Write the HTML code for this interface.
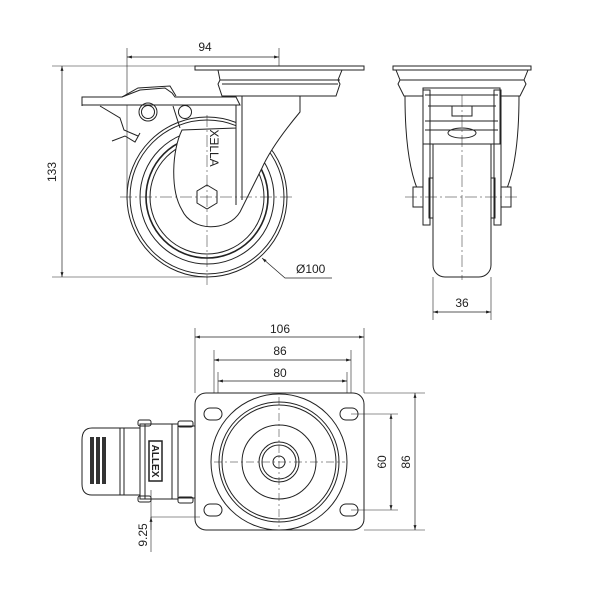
<!DOCTYPE html>
<html><head><style>html,body{margin:0;padding:0;background:#fff}svg{display:block}</style></head>
<body>
<svg width="600" height="600" viewBox="0 0 600 600" xmlns="http://www.w3.org/2000/svg" font-family="Liberation Sans, sans-serif" font-size="12" fill="none" stroke="#222" stroke-width="1">
<defs>
<marker id="a" viewBox="0 0 10 10" refX="10" refY="5" markerWidth="7" markerHeight="7" orient="auto-start-reverse"><path d="M0,2 L10,5 L0,8 z" fill="#222" stroke="none"/></marker>
</defs>

<!-- ========== SIDE VIEW ========== -->
<!-- dims -->
<line x1="127" y1="48" x2="127" y2="200" stroke-width="0.6"/>
<line x1="279" y1="48" x2="279" y2="75" stroke-width="0.6"/>
<line x1="127" y1="57" x2="279" y2="57" stroke-width="0.7" marker-start="url(#a)" marker-end="url(#a)"/>
<text x="205" y="51" fill="#222" stroke="none" text-anchor="middle">94</text>
<line x1="52" y1="66" x2="195" y2="66" stroke-width="0.6"/>
<line x1="52" y1="277" x2="205" y2="277" stroke-width="0.6"/>
<line x1="62" y1="66" x2="62" y2="277" stroke-width="0.7" marker-start="url(#a)" marker-end="url(#a)"/>
<text transform="translate(56,172) rotate(-90)" fill="#222" stroke="none" text-anchor="middle">133</text>

<!-- wheel -->
<g stroke-width="1">
<circle cx="207" cy="197" r="80"/>
<circle cx="207" cy="197" r="77"/>
<circle cx="207" cy="197" r="67"/>
<circle cx="207" cy="197" r="61" stroke-width="1.6"/>
<circle cx="207" cy="197" r="57"/>
</g>
<!-- fork side (white fill covering) -->
<path d="M182,130 C172,150 170,190 182,210 C192,232 228,232 240,212 L262,168 C270,150 285,130 300,112 L300,92 L236,92 L236,128 Z" fill="#fff" stroke="#222"/>
<path d="M236,100 L236,205" />
<path d="M242,96 L242,200"/>
<!-- plate -->
<rect x="195" y="66" width="169" height="4" fill="#fff"/>
<path d="M218,70 L342,70 L338,80 L340,84 L336,96 L300,96 L222,96 L218,84 L220,80 Z" fill="#fff"/>
<line x1="220" y1="80" x2="340" y2="80"/>
<line x1="222" y1="84" x2="338" y2="84"/>
<!-- bracket bar -->
<path d="M82,97 L122,97 L140,90 L165,88 L172,93 L175,97 L236,97 L240,105 L82,105 Z" fill="#fff"/>
<line x1="82" y1="97" x2="82" y2="106"/>
<path d="M122,97 L138,88 L170,86 L176,96"/>
<path d="M100,106 L120,118 L124,130 L138,136"/>
<path d="M112,141 L125,136 L135,142 L140,133"/>
<circle cx="148" cy="112" r="6.5"/>
<circle cx="148" cy="112" r="9"/>
<circle cx="185" cy="112" r="6.5"/>
<line x1="173" y1="106" x2="180" y2="128"/>
<!-- hub -->
<polygon points="207,185 217,191 217,203 207,209 197,203 197,191" fill="#fff"/>
<text transform="translate(210,148) rotate(90)" fill="#222" stroke="none" font-size="12" text-anchor="middle">XƎLLA</text>
<!-- centre lines -->
<line x1="120" y1="197" x2="295" y2="197" stroke-width="0.5" stroke-dasharray="12,3,2,3"/>
<line x1="207" y1="115" x2="207" y2="285" stroke-width="0.5" stroke-dasharray="12,3,2,3"/>
<!-- Ø100 leader -->
<path d="M262,258 L285,278 L332,278" stroke-width="0.7" marker-start="url(#a)"/>
<text x="296" y="273" fill="#222" stroke="none">Ø100</text>

<!-- ========== FRONT VIEW ========== -->
<rect x="393" y="66" width="138" height="4" fill="#fff"/>
<path d="M396,70 L528,70 L524,80 L526,84 L520,96 L404,96 L398,84 L400,80 Z" fill="#fff"/>
<line x1="400" y1="80" x2="524" y2="80"/>
<path d="M405,96 C405,140 410,175 420,195"/>
<path d="M519,96 C519,140 514,175 504,195"/>
<rect x="433" y="140" width="58" height="137" rx="12" fill="#fff"/>
<rect x="433" y="140" width="58" height="120" fill="#fff" stroke="none"/>
<line x1="433" y1="140" x2="433" y2="265"/><line x1="491" y1="140" x2="491" y2="265"/>
<rect x="423" y="88" width="77" height="56" fill="#fff"/>
<line x1="425" y1="95" x2="498" y2="95"/>
<line x1="428" y1="106" x2="496" y2="106"/>
<rect x="452" y="106" width="20" height="10"/>
<line x1="425" y1="121" x2="498" y2="121"/>
<line x1="425" y1="130" x2="498" y2="130"/>
<ellipse cx="462" cy="133" rx="14" ry="5"/>
<rect x="423" y="90" width="7" height="135"/>
<rect x="494" y="90" width="7" height="135"/>
<rect x="429" y="178" width="4" height="40"/>
<rect x="491" y="178" width="4" height="40"/>
<rect x="413" y="187" width="10" height="20" fill="#fff"/>
<rect x="501" y="187" width="10" height="20" fill="#fff"/>
<line x1="405" y1="197" x2="520" y2="197" stroke-width="0.5" stroke-dasharray="12,3,2,3"/>
<line x1="462" y1="95" x2="462" y2="280" stroke-width="0.5" stroke-dasharray="12,3,2,3"/>
<line x1="433" y1="277" x2="433" y2="320" stroke-width="0.6"/>
<line x1="491" y1="277" x2="491" y2="320" stroke-width="0.6"/>
<line x1="433" y1="312" x2="491" y2="312" stroke-width="0.7" marker-start="url(#a)" marker-end="url(#a)"/>
<text x="462" y="307" fill="#222" stroke="none" text-anchor="middle">36</text>

<!-- ========== BOTTOM VIEW ========== -->
<line x1="195" y1="328" x2="195" y2="393" stroke-width="0.6"/>
<line x1="364" y1="328" x2="364" y2="393" stroke-width="0.6"/>
<line x1="214" y1="350" x2="214" y2="414" stroke-width="0.6"/>
<line x1="351" y1="350" x2="351" y2="414" stroke-width="0.6"/>
<line x1="218" y1="372" x2="218" y2="414" stroke-width="0.6"/>
<line x1="347" y1="372" x2="347" y2="414" stroke-width="0.6"/>
<line x1="195" y1="337" x2="364" y2="337" stroke-width="0.7" marker-start="url(#a)" marker-end="url(#a)"/>
<line x1="214" y1="360" x2="351" y2="360" stroke-width="0.7" marker-start="url(#a)" marker-end="url(#a)"/>
<line x1="218" y1="381" x2="347" y2="381" stroke-width="0.7" marker-start="url(#a)" marker-end="url(#a)"/>
<text x="280" y="333" fill="#222" stroke="none" text-anchor="middle">106</text>
<text x="280" y="355" fill="#222" stroke="none" text-anchor="middle">86</text>
<text x="280" y="377" fill="#222" stroke="none" text-anchor="middle">80</text>

<rect x="195" y="393" width="169" height="137" rx="11" fill="#fff"/>
<g>
<rect x="204" y="408" width="18" height="12" rx="6"/>
<rect x="340" y="408" width="18" height="12" rx="6"/>
<rect x="204" y="504" width="18" height="12" rx="6"/>
<rect x="340" y="504" width="18" height="12" rx="6"/>
</g>
<circle cx="279" cy="462" r="68"/>
<circle cx="279" cy="462" r="60"/>
<circle cx="279" cy="462" r="57"/>
<circle cx="279" cy="462" r="37"/>
<circle cx="279" cy="462" r="20"/>
<circle cx="279" cy="462" r="17"/>
<circle cx="279" cy="462" r="6"/>
<line x1="214" y1="462" x2="345" y2="462" stroke-width="0.5" stroke-dasharray="8,3,2,3"/>
<line x1="279" y1="397" x2="279" y2="527" stroke-width="0.5" stroke-dasharray="8,3,2,3"/>

<line x1="351" y1="414" x2="398" y2="414" stroke-width="0.6"/>
<line x1="351" y1="510" x2="398" y2="510" stroke-width="0.6"/>
<line x1="364" y1="393" x2="425" y2="393" stroke-width="0.6"/>
<line x1="364" y1="530" x2="425" y2="530" stroke-width="0.6"/>
<line x1="391" y1="414" x2="391" y2="510" stroke-width="0.7" marker-start="url(#a)" marker-end="url(#a)"/>
<line x1="415" y1="393" x2="415" y2="530" stroke-width="0.7" marker-start="url(#a)" marker-end="url(#a)"/>
<text transform="translate(386,462) rotate(-90)" fill="#222" stroke="none" text-anchor="middle">60</text>
<text transform="translate(410,462) rotate(-90)" fill="#222" stroke="none" text-anchor="middle">86</text>

<!-- brake bottom view -->
<path d="M120,428 L92,428 Q82,428 82,440 L82,484 Q82,495 92,495 L120,495 Z" fill="#fff"/>
<rect x="90" y="437" width="4" height="47" fill="#333" stroke="none"/>
<rect x="96" y="437" width="4" height="47" fill="#333" stroke="none"/>
<rect x="102" y="437" width="4" height="47" fill="#333" stroke="none"/>
<rect x="120" y="428" width="20" height="67" fill="#fff"/>
<line x1="124" y1="428" x2="124" y2="495"/>
<rect x="140" y="424" width="38" height="75" fill="#fff"/>
<rect x="138" y="420" width="13" height="6" rx="2"/>
<rect x="138" y="496" width="13" height="6" rx="2"/>
<line x1="145" y1="424" x2="145" y2="499"/>
<line x1="172" y1="424" x2="172" y2="499"/>
<rect x="149" y="441" width="13" height="40" stroke-width="1.5"/>
<text transform="translate(152,461) rotate(90)" fill="#222" stroke="none" font-size="10" text-anchor="middle" font-weight="bold">ALLEX</text>
<rect x="178" y="426" width="17" height="72" fill="#fff"/>
<rect x="178" y="421" width="15" height="6" rx="2"/>
<rect x="178" y="497" width="15" height="6" rx="2"/>
<line x1="151" y1="490" x2="151" y2="552" stroke-width="0.6"/>
<line x1="151" y1="517" x2="200" y2="517" stroke-width="0.6"/>
<line x1="151" y1="530" x2="151" y2="517" stroke-width="0.7" marker-end="url(#a)"/>
<text transform="translate(147,535) rotate(-90)" fill="#222" stroke="none" text-anchor="middle">9.25</text>
</svg>
</body></html>
